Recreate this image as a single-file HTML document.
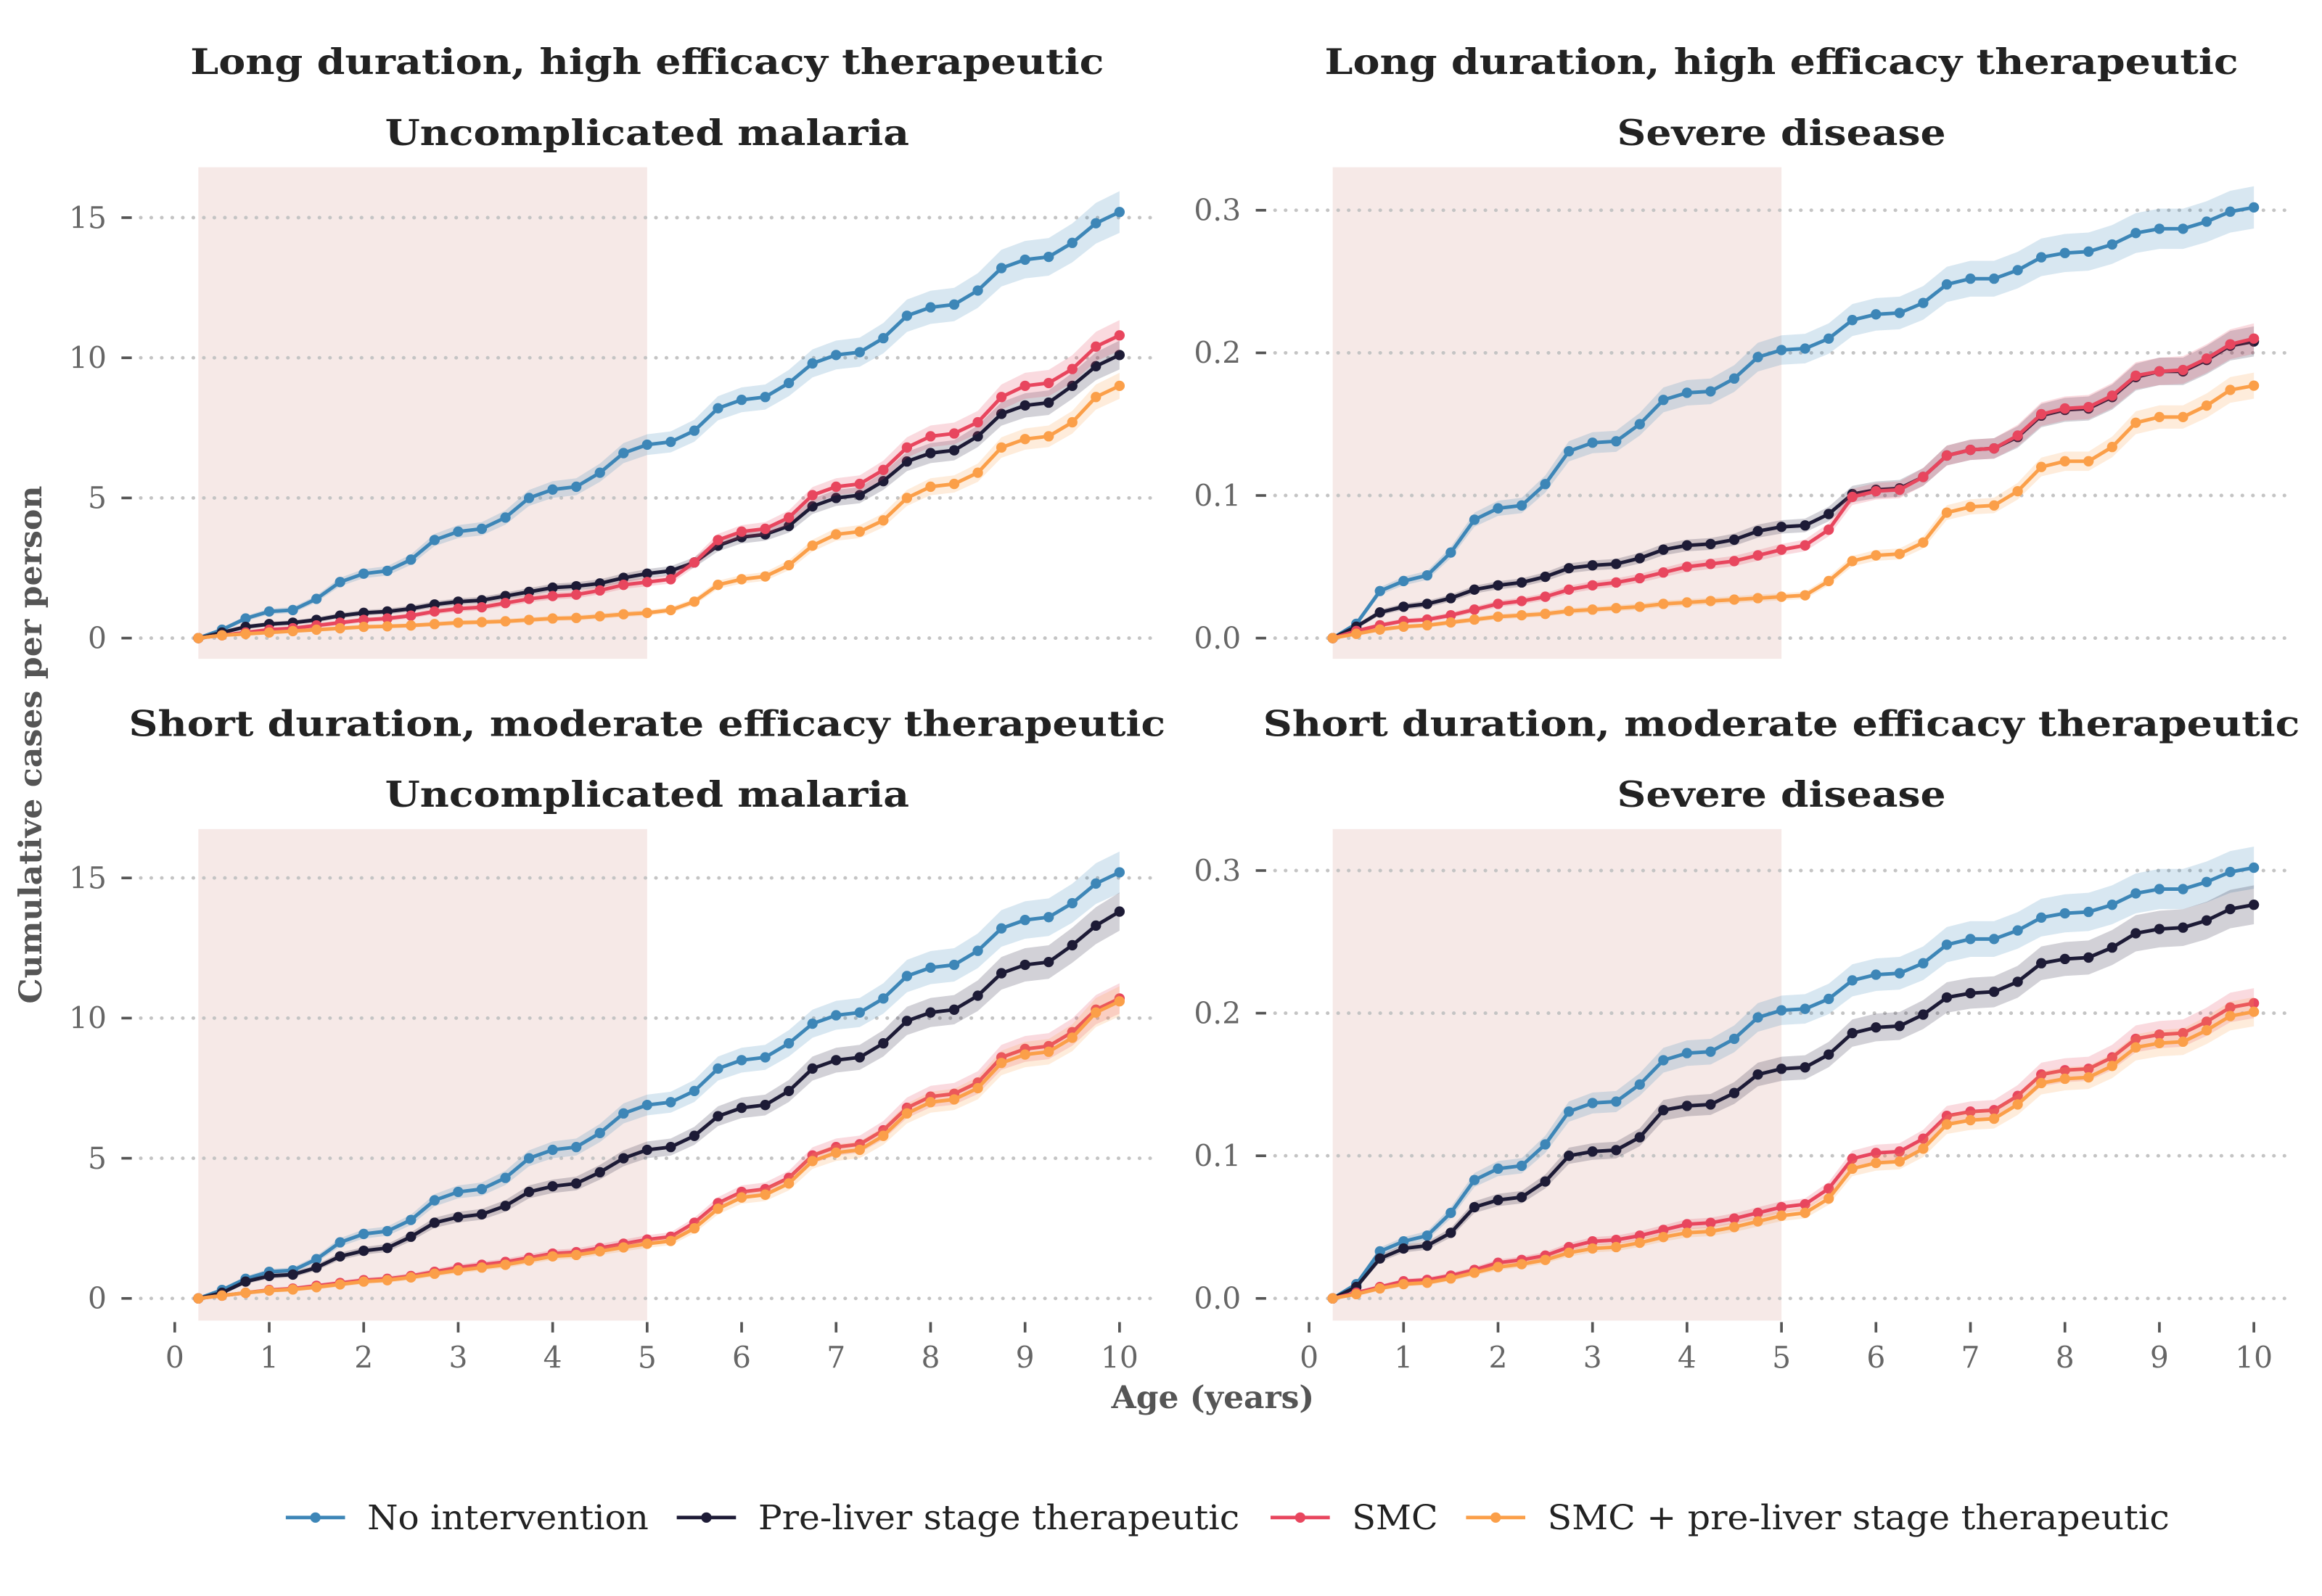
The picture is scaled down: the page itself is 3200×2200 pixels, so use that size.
<!DOCTYPE html>
<html><head><meta charset="utf-8"><style>
html,body{margin:0;padding:0;background:#fff}
svg{display:block}
text{font-family:"DejaVu Serif","Liberation Serif",serif}
</style></head><body>
<svg id="chart" width="3200" height="2200" viewBox="0 0 1568 1078" xmlns="http://www.w3.org/2000/svg">
<rect width="1568" height="1078" fill="#fff"/>
<g id="panels"></g>
<text x="28" y="503" transform="rotate(-90 28 503)" text-anchor="middle" font-size="21" font-weight="bold" fill="#555" textLength="350" lengthAdjust="spacingAndGlyphs">Cumulative cases per person</text>
<text x="819" y="951" text-anchor="middle" font-size="21" font-weight="bold" fill="#555" textLength="137" lengthAdjust="spacingAndGlyphs">Age (years)</text>
<g id="legend"></g>
</svg>
<script>
const ages = [];
for (let i = 1; i <= 40; i++) ages.push(i * 0.25);
const seriesNames = ["No intervention","Pre-liver stage therapeutic","SMC","SMC + pre-liver stage therapeutic"];
const uncNone = [0,0.3,0.7,0.95,1.0,1.4,2.0,2.3,2.4,2.8,3.5,3.8,3.9,4.3,5.0,5.3,5.4,5.9,6.6,6.9,7.0,7.4,8.2,8.5,8.6,9.1,9.8,10.1,10.2,10.7,11.5,11.8,11.9,12.4,13.2,13.5,13.6,14.1,14.8,15.2];
const uncLongPL = [0,0.2,0.4,0.5,0.55,0.65,0.8,0.9,0.95,1.05,1.2,1.3,1.35,1.5,1.65,1.8,1.85,1.95,2.15,2.3,2.4,2.7,3.3,3.6,3.7,4.0,4.7,5.0,5.1,5.6,6.3,6.6,6.7,7.2,8.0,8.3,8.4,9.0,9.7,10.1];
const uncLongSMC = [0,0.1,0.2,0.3,0.35,0.45,0.55,0.65,0.7,0.8,0.95,1.05,1.1,1.25,1.4,1.5,1.55,1.7,1.9,2.0,2.1,2.7,3.5,3.8,3.9,4.3,5.1,5.4,5.5,6.0,6.8,7.2,7.3,7.7,8.6,9.0,9.1,9.6,10.4,10.8];
const uncLongBoth = [0,0.1,0.15,0.2,0.25,0.3,0.35,0.4,0.42,0.45,0.5,0.55,0.57,0.6,0.65,0.7,0.72,0.78,0.85,0.9,1.0,1.3,1.9,2.1,2.2,2.6,3.3,3.7,3.8,4.2,5.0,5.4,5.5,5.9,6.8,7.1,7.2,7.7,8.6,9.0];
const sevNone = [0,0.01,0.033,0.04,0.044,0.06,0.083,0.091,0.093,0.108,0.131,0.137,0.138,0.15,0.167,0.172,0.173,0.182,0.197,0.202,0.203,0.21,0.223,0.227,0.228,0.235,0.248,0.252,0.252,0.258,0.267,0.27,0.271,0.276,0.284,0.287,0.287,0.292,0.299,0.302];
const sevLongPL = [0,0.008,0.018,0.022,0.024,0.028,0.034,0.037,0.039,0.043,0.049,0.051,0.052,0.056,0.062,0.065,0.066,0.069,0.075,0.078,0.079,0.087,0.101,0.104,0.105,0.113,0.128,0.132,0.133,0.141,0.156,0.16,0.161,0.169,0.183,0.187,0.187,0.195,0.205,0.208];
const sevLongSMC = [0,0.005,0.009,0.012,0.013,0.016,0.02,0.024,0.026,0.029,0.034,0.037,0.039,0.042,0.046,0.05,0.052,0.054,0.058,0.062,0.065,0.076,0.099,0.103,0.104,0.113,0.128,0.132,0.133,0.142,0.157,0.161,0.162,0.17,0.184,0.187,0.188,0.196,0.206,0.21];
const sevLongBoth = [0,0.003,0.006,0.008,0.009,0.011,0.013,0.015,0.016,0.017,0.019,0.02,0.021,0.022,0.024,0.025,0.026,0.027,0.028,0.029,0.03,0.04,0.054,0.058,0.059,0.067,0.088,0.092,0.093,0.103,0.12,0.124,0.124,0.134,0.151,0.155,0.155,0.163,0.174,0.177];
const uncShortPL = [0,0.2,0.6,0.8,0.85,1.1,1.5,1.7,1.8,2.2,2.7,2.9,3.0,3.3,3.8,4.0,4.1,4.5,5.0,5.3,5.4,5.8,6.5,6.8,6.9,7.4,8.2,8.5,8.6,9.1,9.9,10.2,10.3,10.8,11.6,11.9,12.0,12.6,13.3,13.8];
const uncShortSMC = [0,0.1,0.2,0.3,0.35,0.45,0.55,0.65,0.7,0.8,0.95,1.1,1.2,1.3,1.45,1.6,1.65,1.8,1.95,2.1,2.2,2.7,3.4,3.8,3.9,4.3,5.1,5.4,5.5,6.0,6.8,7.2,7.3,7.7,8.6,8.9,9.0,9.5,10.3,10.7];
const uncShortBoth = [0,0.1,0.2,0.28,0.32,0.4,0.5,0.6,0.65,0.75,0.88,1.0,1.1,1.2,1.35,1.5,1.55,1.68,1.82,1.95,2.05,2.5,3.2,3.6,3.7,4.1,4.9,5.2,5.3,5.8,6.6,7.0,7.1,7.5,8.4,8.7,8.8,9.3,10.2,10.6];
const sevShortPL = [0,0.008,0.028,0.035,0.037,0.046,0.064,0.069,0.071,0.082,0.1,0.103,0.104,0.113,0.132,0.135,0.136,0.144,0.157,0.161,0.162,0.171,0.186,0.19,0.191,0.199,0.211,0.214,0.215,0.222,0.235,0.238,0.239,0.246,0.256,0.259,0.26,0.265,0.273,0.276];
const sevShortSMC = [0,0.004,0.008,0.012,0.013,0.016,0.02,0.025,0.027,0.03,0.036,0.04,0.041,0.044,0.048,0.052,0.053,0.056,0.06,0.064,0.066,0.077,0.098,0.102,0.103,0.112,0.128,0.131,0.132,0.142,0.157,0.16,0.161,0.169,0.182,0.185,0.186,0.194,0.204,0.207];
const sevShortBoth = [0,0.003,0.007,0.01,0.011,0.014,0.018,0.022,0.024,0.027,0.032,0.035,0.036,0.039,0.043,0.046,0.047,0.05,0.054,0.058,0.06,0.07,0.091,0.095,0.096,0.105,0.122,0.125,0.126,0.136,0.151,0.154,0.155,0.163,0.176,0.179,0.18,0.188,0.198,0.201];
const uncTicks = [0,5,10,15];
const uncTickLabels = ["0","5","10","15"];
const sevTicks = [0,0.1,0.2,0.3];
const sevTickLabels = ["0.0","0.1","0.2","0.3"];
const xTicks = [0,1,2,3,4,5,6,7,8,9,10];
const colors = ["#3d86b7","#1d1b36","#e8465e","#fb9f49"];
const NS = "http://www.w3.org/2000/svg";

const panels = [
  {name:"panel-long-uncomplicated", x0:118, y0:431, ymax:15, yTop:147, t1:"Long duration, high efficacy therapeutic", t2:"Uncomplicated malaria", w1:617, w2:354, ticks:uncTicks, labels:uncTickLabels, series:[uncNone,uncLongPL,uncLongSMC,uncLongBoth], top:113, bottom:445, xlabels:false},
  {name:"panel-long-severe", x0:884, y0:431, ymax:0.3, yTop:142, t1:"Long duration, high efficacy therapeutic", t2:"Severe disease", w1:617, w2:222, ticks:sevTicks, labels:sevTickLabels, series:[sevNone,sevLongPL,sevLongSMC,sevLongBoth], top:113, bottom:445, xlabels:false},
  {name:"panel-short-uncomplicated", x0:118, y0:877, ymax:15, yTop:593, t1:"Short duration, moderate efficacy therapeutic", t2:"Uncomplicated malaria", w1:700, w2:354, ticks:uncTicks, labels:uncTickLabels, series:[uncNone,uncShortPL,uncShortSMC,uncShortBoth], top:560, bottom:892, xlabels:true},
  {name:"panel-short-severe", x0:884, y0:877, ymax:0.3, yTop:588, t1:"Short duration, moderate efficacy therapeutic", t2:"Severe disease", w1:700, w2:222, ticks:sevTicks, labels:sevTickLabels, series:[sevNone,sevShortPL,sevShortSMC,sevShortBoth], top:560, bottom:892, xlabels:true}
];
const XS = 63.8;
function mk(tag, attrs, parent){const e=document.createElementNS(NS,tag);for(const k in attrs)e.setAttribute(k,attrs[k]);parent.appendChild(e);return e;}
const root = document.getElementById("panels");
panels.forEach(p=>{
  const g = mk("g",{},root);
  
  
  const xs = t => p.x0 + t*XS;
  const ys = v => p.y0 - v*(p.y0-p.yTop)/p.ymax;
  const cx = p.x0 + 5*XS;
  const sh = mk("rect",{x:xs(0.25),y:p.top,width:xs(5)-xs(0.25),height:p.bottom-p.top,fill:"#f6e9e7"},g);
  
  
  p.ticks.forEach((v,i)=>{
    const gl = mk("line",{x1:p.x0-23,x2:p.x0+662,y1:ys(v),y2:ys(v),stroke:"#c4c4c4","stroke-width":2.4,"stroke-dasharray":"0.1 7","stroke-linecap":"round"},g);
    
    
    mk("line",{x1:p.x0-36,x2:p.x0-29,y1:ys(v),y2:ys(v),stroke:"#555","stroke-width":1.8},g);
    const tl = mk("text",{x:p.x0-46,y:ys(v)+7,"text-anchor":"end","font-size":20,fill:"#666"},g);
    tl.textContent = p.labels[i];
    
    
  });
  if(p.xlabels){
    xTicks.forEach(t=>{
      mk("line",{x1:xs(t),x2:xs(t),y1:893,y2:900,stroke:"#555","stroke-width":1.8},g);
      const xl = mk("text",{x:xs(t),y:924,"text-anchor":"middle","font-size":20,fill:"#666"},g);
      xl.textContent = String(t);
      
      
    });
  }
  const t1 = mk("text",{x:cx,y:p.top-63,"text-anchor":"middle","font-size":24,"font-weight":"bold",fill:"#222",textLength:p.w1,lengthAdjust:"spacingAndGlyphs"},g);
  t1.textContent = p.t1;
  
  
  const t2 = mk("text",{x:cx,y:p.top-15,"text-anchor":"middle","font-size":24,"font-weight":"bold",fill:"#222",textLength:p.w2,lengthAdjust:"spacingAndGlyphs"},g);
  t2.textContent = p.t2;
  
  
  p.series.forEach((vals,si)=>{
    const band = vals.map(v=>v*0.045 + p.ymax*0.004);
    let up = vals.map((v,i)=>xs(ages[i])+","+ys(v+band[i]));
    let dn = vals.map((v,i)=>xs(ages[i])+","+ys(Math.max(0,v-band[i]))).reverse();
    const rib = mk("polygon",{points:up.concat(dn).join(" "),fill:colors[si],"fill-opacity":0.2},g);
    
    
    const ln = mk("polyline",{points:vals.map((v,i)=>xs(ages[i])+","+ys(v)).join(" "),fill:"none",stroke:colors[si],"stroke-width":2.4},g);
    
    
    vals.forEach((v,i)=>{
      const c = mk("circle",{cx:xs(ages[i]),cy:ys(v),r:3.5,fill:colors[si]},g);
      
      
    });
  });
});
const leg = document.getElementById("legend");
const legX = [193,457,858,990];
const legW = [190,325,58,420];
seriesNames.forEach((n,i)=>{
  const g = mk("g",{},leg);
  
  
  mk("line",{x1:legX[i],x2:legX[i]+40,y1:1025,y2:1025,stroke:colors[i],"stroke-width":2.4},g);
  mk("circle",{cx:legX[i]+20,cy:1025,r:3.5,fill:colors[i]},g);
  const t = mk("text",{x:legX[i]+55,y:1033,"font-size":23,fill:"#222",textLength:legW[i],lengthAdjust:"spacingAndGlyphs"},g);
  t.textContent = n;
});
</script>
</body></html>
